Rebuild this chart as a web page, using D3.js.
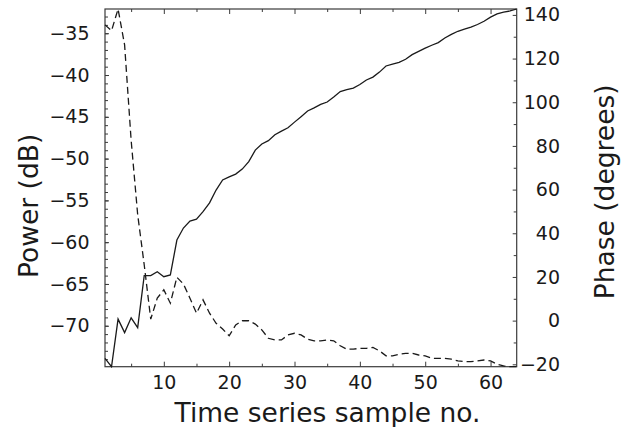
<!DOCTYPE html>
<html lang="en">
<head>
<meta charset="UTF-8">
<title>Power and phase</title>
<script src="https://cdnjs.cloudflare.com/ajax/libs/d3/7.8.5/d3.min.js"></script>
<style>
  body { margin: 0; background: #fff; }
  svg text { font-family: "DejaVu Sans", sans-serif; fill: #1a1a1a; }
</style>
</head>
<body>
<div id="chart"></div>
<script>
    // sample index along x
    var sampleNo = [1, 2, 3, 4, 5, 6, 7, 8, 9, 10, 11, 12, 13, 14, 15, 16,
        17, 18, 19, 20, 21, 22, 23, 24, 25, 26, 27, 28, 29, 30, 31, 32,
        33, 34, 35, 36, 37, 38, 39, 40, 41, 42, 43, 44, 45, 46, 47, 48,
        49, 50, 51, 52, 53, 54, 55, 56, 57, 58, 59, 60, 61, 62, 63, 64];

    // dashed line, left axis (dB)
    var powerDb = [-34.0, -34.7, -32.1, -36.4, -47.8, -56.7, -62.7, -69.2,
        -66.7, -65.7, -67.3, -64.2, -65.0, -66.7, -68.5, -66.9,
        -68.5, -69.7, -70.4, -71.2, -69.9, -69.4, -69.4, -69.8,
        -70.5, -71.5, -71.7, -71.7, -71.1, -70.9, -71.1, -71.6,
        -71.8, -71.8, -71.7, -71.8, -72.4, -72.8, -72.8, -72.7,
        -72.7, -72.6, -73.0, -73.6, -73.6, -73.4, -73.3, -73.3,
        -73.5, -73.6, -73.9, -73.9, -73.9, -74.0, -74.2, -74.3,
        -74.3, -74.2, -74.1, -74.2, -74.6, -74.8, -74.9, -74.9];

    // solid line, right axis (degrees)
    var phaseDeg = [-17.3, -21.1, 0.7, -5.5, 1.3, -3.2, 20.6, 20.6,
        22.4, 20.1, 20.9, 36.9, 42.4, 45.6, 46.5, 49.9,
        53.9, 59.8, 64.4, 65.8, 67.1, 69.4, 72.8, 78.1,
        80.9, 82.4, 85.1, 86.8, 88.3, 90.9, 93.4, 96.0,
        97.4, 99.0, 100.1, 102.4, 104.9, 105.8, 106.5, 108.1,
        110.2, 111.5, 113.8, 116.6, 117.5, 118.3, 119.7, 121.8,
        123.3, 124.8, 126.1, 127.3, 129.4, 131.1, 132.5, 133.5,
        134.4, 135.6, 137.1, 139.0, 140.5, 141.3, 141.8, 142.7];

    var xTicks = [10, 20, 30, 40, 50, 60];
    var xMinorTicks = [5, 15, 25, 35, 45, 55];
    var powerTicks = [-70, -65, -60, -55, -50, -45, -40, -35];
    var phaseTicks = [-20, 0, 20, 40, 60, 80, 100, 120, 140];

    var margin = {top: 9, right: 111.3, bottom: 60.3, left: 105},
        width = 628 - margin.left - margin.right,
        height = 427 - margin.top - margin.bottom;

    var x = d3.scaleLinear()
        .domain([1, 64])
        .range([0, width]);

    var yPow = d3.scaleLinear()
        .domain(d3.extent(powerDb))
        .range([height, 0]);

    var yPh = d3.scaleLinear()
        .domain(d3.extent(phaseDeg))
        .range([height, 0]);

    var svg = d3.select("#chart")
        .append("svg")
        .attr("width", width + margin.left + margin.right)
        .attr("height", height + margin.top + margin.bottom)
        .append("g")
        .attr("transform", "translate(" + margin.left + "," + margin.top + ")");

    var axisColor = "#3a3a3a";

    function styleAxis(g) {
        g.select(".domain").remove();
        g.selectAll(".tick line").attr("stroke", axisColor).attr("stroke-width", 1);
        g.selectAll(".tick text")
            .style("font-size", "19px")
            .attr("fill", "#1a1a1a");
    }

    // bottom axis
    svg.append("g")
        .attr("transform", "translate(0," + height + ")")
        .call(d3.axisBottom(x).tickValues(xTicks).tickSizeInner(-5).tickSizeOuter(0).tickPadding(8.5))
        .call(styleAxis);
    svg.append("g")
        .attr("transform", "translate(0," + height + ")")
        .call(d3.axisBottom(x).tickValues(xMinorTicks).tickSize(-3).tickFormat(""))
        .call(styleAxis);

    // top axis, marks only
    svg.append("g")
        .call(d3.axisTop(x).tickValues(xTicks).tickSize(-5).tickFormat(""))
        .call(styleAxis);
    svg.append("g")
        .call(d3.axisTop(x).tickValues(xMinorTicks).tickSize(-3).tickFormat(""))
        .call(styleAxis);

    // left axis (power)
    svg.append("g")
        .call(d3.axisLeft(yPow).tickValues(powerTicks).tickSizeInner(-4).tickSizeOuter(0).tickPadding(15.5))
        .call(styleAxis);
    svg.append("g")
        .call(d3.axisLeft(yPow).tickValues(d3.range(-74, -32, 1)).tickSize(-3).tickFormat(""))
        .call(styleAxis);

    // right axis (phase)
    var rightAxis = svg.append("g")
        .attr("transform", "translate(" + width + ",0)")
        .call(d3.axisRight(yPh).tickValues(phaseTicks).tickSizeInner(-4).tickSizeOuter(0))
        .call(styleAxis);
    rightAxis.selectAll(".tick text")
        .attr("text-anchor", "end")
        .attr("x", 43.3);
    svg.append("g")
        .attr("transform", "translate(" + width + ",0)")
        .call(d3.axisRight(yPh).tickValues(d3.range(-10, 140, 20)).tickSize(-3).tickFormat(""))
        .call(styleAxis);

    // frame
    svg.append("rect")
        .attr("width", width)
        .attr("height", height)
        .attr("fill", "none")
        .attr("stroke", axisColor)
        .attr("stroke-width", 1.2);

    var powerLine = d3.line()
        .x(function (d, i) { return x(sampleNo[i]); })
        .y(function (d) { return yPow(d); });

    var phaseLine = d3.line()
        .x(function (d, i) { return x(sampleNo[i]); })
        .y(function (d) { return yPh(d); });

    svg.append("path")
        .datum(phaseDeg)
        .attr("fill", "none")
        .attr("stroke", "#1a1a1a")
        .attr("stroke-width", 1.3)
        .attr("d", phaseLine);

    svg.append("path")
        .datum(powerDb)
        .attr("fill", "none")
        .attr("stroke", "#1a1a1a")
        .attr("stroke-width", 1.3)
        .attr("stroke-dasharray", "7,4")
        .attr("d", powerLine);

    // axis titles
    svg.append("text")
        .attr("x", 327.5 - margin.left)
        .attr("y", 421.7 - margin.top)
        .attr("text-anchor", "middle")
        .style("font-size", "26.5px")
        .text("Time series sample no.");

    svg.append("text")
        .attr("transform", "translate(" + (38 - margin.left) + "," + (height / 2 + 18) + ")rotate(-90)")
        .attr("text-anchor", "middle")
        .style("font-size", "26.5px")
        .text("Power (dB)");

    svg.append("text")
        .attr("transform", "translate(" + (614 - margin.left) + "," + (height / 2 + 4) + ")rotate(-90)")
        .attr("text-anchor", "middle")
        .style("font-size", "26.5px")
        .text("Phase (degrees)");
</script>
</body>
</html>
